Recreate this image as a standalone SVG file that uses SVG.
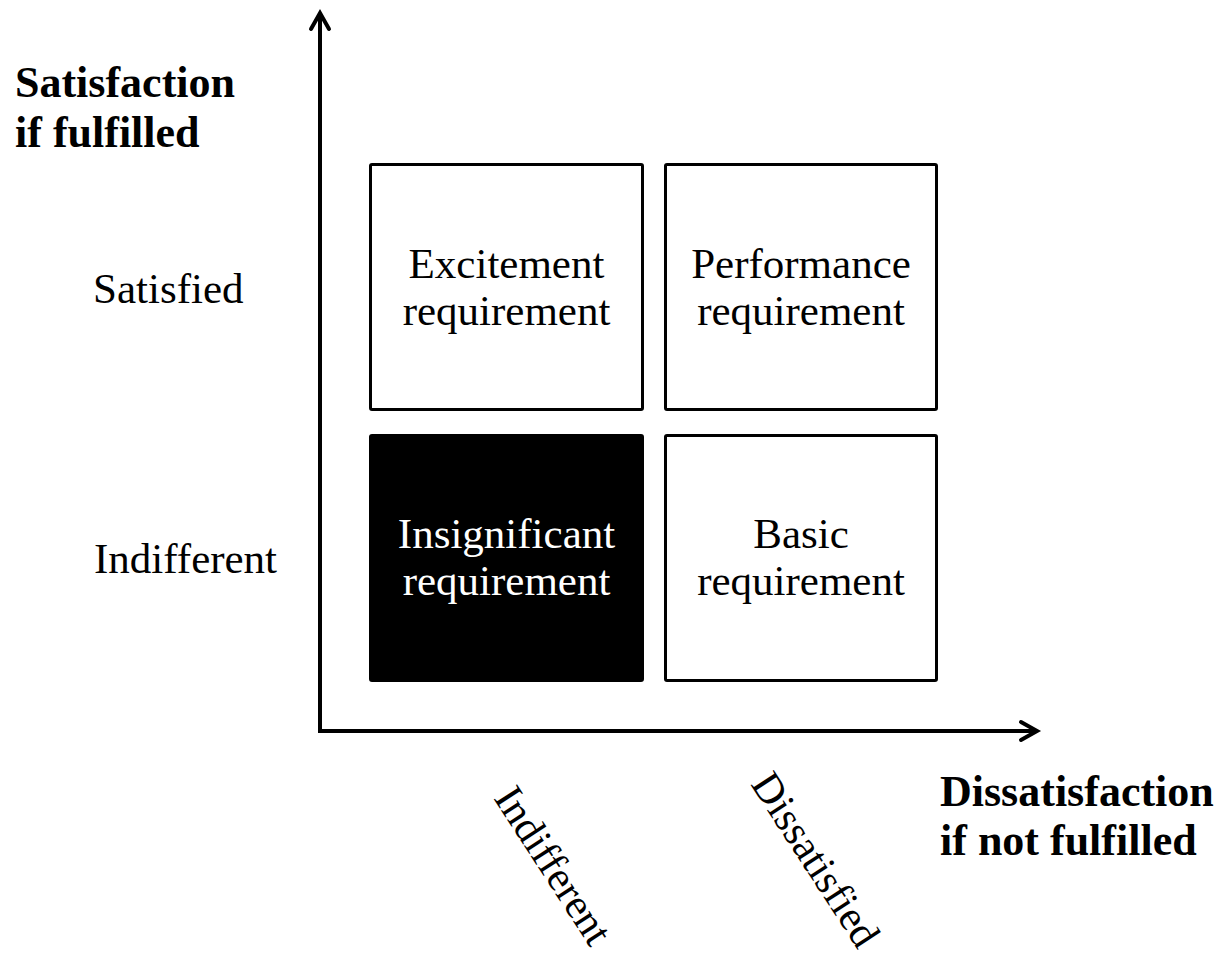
<svg xmlns="http://www.w3.org/2000/svg" width="1223" height="958" viewBox="0 0 1223 958">
  <style>
    text { font-family: "Liberation Serif", "Times New Roman", serif; fill: #000; }
    .lbl { font-size: 43px; }
    .tilt { font-size: 42px; }
    .head { font-size: 44px; font-weight: bold; }
    .box text { font-size: 43px; text-anchor: middle; }
    .box rect { stroke: #000; stroke-width: 3; }
    .axis { fill: none; stroke: #000; stroke-width: 4; stroke-linecap: butt; }
    .tip { fill: none; stroke: #000; stroke-width: 4; stroke-linejoin: miter; stroke-linecap: round; }
  </style>

  <rect width="1223" height="958" fill="#fff"/>

  <!-- axes -->
  <g id="connectors">
    <line class="axis" x1="320" y1="733" x2="320" y2="14"/>
    <polyline class="tip" points="311,29 320,13 329,29"/>
    <line class="axis" x1="318" y1="731" x2="1037" y2="731"/>
    <polyline class="tip" points="1021,722 1037,731 1021,740"/>
  </g>

  <!-- axis titles -->
  <g id="y-title">
    <text class="head" x="15" y="97">Satisfaction</text>
    <text class="head" x="15" y="147">if fulfilled</text>
  </g>
  <g id="x-title">
    <text class="head" x="940" y="806">Dissatisfaction</text>
    <text class="head" x="940" y="855">if not fulfilled</text>
  </g>

  <!-- row labels -->
  <g id="row-satisfied"><text class="lbl" x="93" y="303">Satisfied</text></g>
  <g id="row-indifferent"><text class="lbl" x="94" y="573">Indifferent</text></g>

  <!-- column labels -->
  <g id="col-indifferent"><text class="tilt" transform="translate(493,798) rotate(57)">Indifferent</text></g>
  <g id="col-dissatisfied"><text class="tilt" transform="translate(750,784) rotate(57)">Dissatisfied</text></g>

  <!-- quadrants -->
  <g id="excitement" class="box">
    <rect x="370.5" y="164.5" width="272" height="245" rx="1.5" fill="#fff"/>
    <text x="506.5" y="278">Excitement</text>
    <text x="506.5" y="325">requirement</text>
  </g>
  <g id="performance" class="box">
    <rect x="665.5" y="164.5" width="271" height="245" rx="1.5" fill="#fff"/>
    <text x="801" y="278">Performance</text>
    <text x="801" y="325">requirement</text>
  </g>
  <g id="insignificant" class="box">
    <rect x="370.5" y="435.5" width="272" height="245" rx="1.5" fill="#000"/>
    <text x="506.5" y="548" style="fill:#fff">Insignificant</text>
    <text x="506.5" y="595" style="fill:#fff">requirement</text>
  </g>
  <g id="basic" class="box">
    <rect x="665.5" y="435.5" width="271" height="245" rx="1.5" fill="#fff"/>
    <text x="801" y="548">Basic</text>
    <text x="801" y="595">requirement</text>
  </g>
</svg>
